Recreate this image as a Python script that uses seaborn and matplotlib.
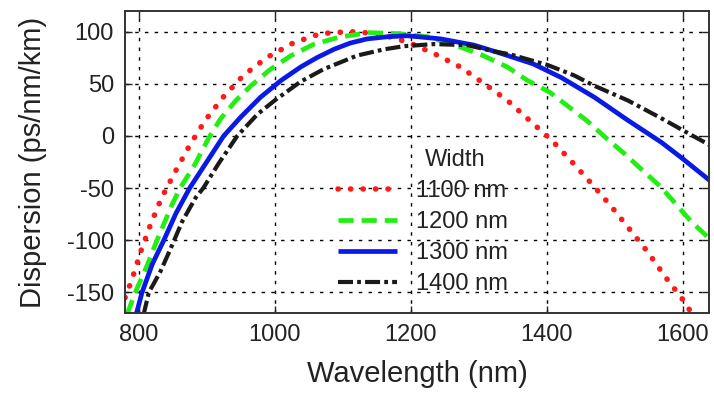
import matplotlib
matplotlib.use("Agg")
import matplotlib.pyplot as plt
import seaborn as sns
import pandas as pd

# ---- data ----
red_wl = [780, 790, 803, 818, 834, 854, 875, 898, 924, 954, 988, 1027, 1067, 1110, 1153,
          1195, 1234, 1273, 1308, 1342, 1376, 1407, 1437, 1466, 1494, 1521, 1548, 1574, 1600, 1615]
red_d = [-155, -138, -111, -84, -59, -34, -9, 15, 37, 58, 75, 89, 98, 100, 98,
         90, 79, 66, 50, 34, 14, -4, -25, -46, -67, -89, -111, -135, -157, -172]

green_wl = [783, 795, 812, 827, 849, 861, 883, 903, 920, 943, 965, 992, 1024, 1058, 1097, 1139,
            1183, 1225, 1269, 1303, 1342, 1372, 1404, 1426, 1460, 1487, 1514, 1539, 1566, 1588, 1612, 1640]
green_d = [-171, -150, -125, -100, -66, -50, -27, -2, 16, 34, 48, 63, 77, 88, 95, 99,
           98, 95, 86, 78, 66, 53, 42, 31, 14, -2, -17, -32, -48, -64, -82, -99]

blue_wl = [796, 805, 820, 837, 855, 875, 900, 925, 950, 979, 1009, 1038, 1062, 1087, 1111, 1136, 1165, 1195,
           1244, 1293, 1333, 1380, 1421, 1470, 1519, 1568, 1598, 1640]
blue_d = [-172, -150, -123, -100, -74, -50, -25, 0, 18, 37, 53, 66, 75, 83, 89, 93, 95, 96,
          93, 87, 79, 69, 56, 37, 15, -6, -21, -43]

black_wl = [807, 815, 832, 847, 864, 884, 895, 918, 945, 975, 1000, 1038, 1072, 1121, 1161, 1190,
            1234, 1283, 1323, 1347, 1401, 1440, 1470, 1519, 1568, 1612, 1640]
black_d = [-172, -150, -130, -108, -82, -59, -50, -26, 0, 21, 34, 52, 64, 77, 83, 86,
           88, 87, 81, 78, 68, 58, 48, 34, 17, 1, -9]

labels = ["1100 nm", "1200 nm", "1300 nm", "1400 nm"]
x_ticks = [800, 1000, 1200, 1400, 1600]
y_ticks = [-150, -100, -50, 0, 50, 100]

series = [
    (red_wl, red_d, labels[0], "#ff1a1a", 4.0, (0, (0.05, 2.2)), "round"),
    (green_wl, green_d, labels[1], "#22ee11", 3.4, (0, (3.2, 1.7)), "butt"),
    (blue_wl, blue_d, labels[2], "#0a1ae6", 3.4, "-", "butt"),
    (black_wl, black_d, labels[3], "#1a1a1a", 3.0, (0, (3.6, 1.0, 0.9, 1.0)), "butt"),
]

sns.set_style("ticks")
plt.rcParams["font.family"] = ["Liberation Sans", "DejaVu Sans"]
plt.rcParams["axes.unicode_minus"] = False

fig = plt.figure(figsize=(7.14, 3.98), dpi=100)
ax = fig.add_axes([0.1751, 0.2128, 0.8176, 0.7603])

for wl, d, lab, col, lw, ls, cap in series:
    df = pd.DataFrame({"Wavelength": wl, "Dispersion": d})
    sns.lineplot(data=df, x="Wavelength", y="Dispersion", ax=ax, color=col, lw=lw,
                 linestyle=ls, label=lab, sort=False, estimator=None,
                 dash_capstyle=cap, solid_capstyle="butt", solid_joinstyle="round")

ax.set_xlim(780, 1638)
ax.set_ylim(-170, 120)
ax.set_xticks(x_ticks)
ax.set_yticks(y_ticks)
ax.grid(True, color="black", linestyle=(0, (2.5, 4.5)), linewidth=1.0)
ax.set_axisbelow(True)
ax.tick_params(direction="in", length=5, width=1, top=True, right=True,
               labelsize=17, colors="#222222", pad=8)
for sp in ax.spines.values():
    sp.set_color("#333333")
    sp.set_linewidth(1.4)

ax.set_xlabel("Wavelength (nm)", fontsize=21, color="#222222", labelpad=10)
ax.set_ylabel("Dispersion (ps/nm/km)", fontsize=21, color="#222222", labelpad=14)

leg = ax.legend(loc="upper left", bbox_to_anchor=(0.365, 0.44), frameon=False,
                fontsize=17, handlelength=2.5, handletextpad=0.8, labelspacing=0.38,
                borderpad=0, borderaxespad=0)
for t in leg.get_texts():
    t.set_color("#222222")
ax.text(0.514, 0.507, "Width", transform=ax.transAxes, fontsize=17,
        color="#222222", ha="left", va="center")

fig.savefig("out.png", dpi=100)
